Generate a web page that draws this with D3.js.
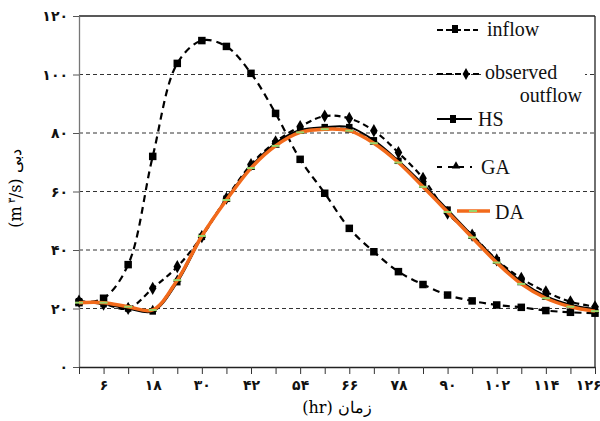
<!DOCTYPE html>
<html>
<head>
<meta charset="utf-8">
<script src="https://cdn.jsdelivr.net/npm/d3@7"></script>
<style>
  body { margin: 0; background: #fff; }
  svg { display: block; }
  .fa { font-family: "DejaVu Sans", sans-serif; font-weight: bold; font-size: 14px; fill: #111; }
  .leg { font-family: "Liberation Serif", serif; font-size: 20px; fill: #111; }
</style>
</head>
<body>
<div id="chart"></div>
<script>
// time steps (hr) and discharge (m3/s)
const hours = [0, 6, 12, 18, 24, 30, 36, 42, 48, 54, 60, 66, 72, 78, 84, 90, 96, 102, 108, 114, 120, 126];
const inflow = [22, 23.5, 35, 72, 103.8, 111.6, 109.6, 100.4, 86.7, 71, 59.4, 47.4, 39.4, 32.6, 28.2, 24.6, 22.6, 21.2, 20.4, 19.3, 18.7, 18.4];
const observed = [22.5, 21.5, 20, 26.9, 34.3, 44.6, 57.7, 69.2, 77, 82.2, 85.8, 85, 80.8, 73.3, 64.5, 52.6, 45.1, 36.6, 30.3, 25.7, 22.3, 20.6];
const hs = [22.5, 21.5, 20, 19, 29, 44.5, 57.5, 68.5, 76.5, 81, 82, 82, 77.5, 70.5, 62.5, 53.8, 45, 36.5, 29.2, 24.2, 21.3, 19.8];
const ga = [22, 22, 20.5, 19.6, 30, 45, 57.3, 68.2, 75.8, 80.5, 81.5, 81, 76.8, 70.2, 62, 53.3, 44.6, 36, 28.8, 23.8, 20.9, 19.4];
const da = [22, 22, 20.6, 19.5, 29.7, 44.8, 57.1, 68, 75.6, 80.2, 81.3, 80.8, 76.5, 69.9, 61.6, 53, 44.3, 35.7, 28.4, 23.5, 20.6, 19.1];

const yTicks = [0, 20, 40, 60, 80, 100, 120];
const xLabelTicks = [6, 18, 30, 42, 54, 66, 78, 90, 102, 114, 126];
const xMinorTicks = [0, 6, 12, 18, 24, 30, 36, 42, 48, 54, 60, 66, 72, 78, 84, 90, 96, 102, 108, 114, 120, 126];

// persian digits
const faDigits = "۰۱۲۳۴۵۶۷۸۹";
const fa = n => String(n).replace(/\d/g, d => faDigits[+d]);

const W = 600, H = 421;
const margin = {top: 16, right: 5, bottom: 54, left: 79};

const svg = d3.select("#chart").append("svg").attr("width", W).attr("height", H);

const x = d3.scaleLinear().domain([0, 126]).range([margin.left, W - margin.right]);
const y = d3.scaleLinear().domain([0, 120]).range([H - margin.bottom, margin.top]);

// grid
svg.append("g").selectAll("line")
    .data(yTicks.filter(v => v > 0 && v < 120))
    .enter().append("line")
    .attr("x1", x(0)).attr("x2", x(126))
    .attr("y1", d => y(d)).attr("y2", d => y(d))
    .attr("stroke", "#333").attr("stroke-width", 1)
    .attr("stroke-dasharray", "4,3");

// frame
svg.append("line").attr("x1", x(0)).attr("x2", x(126)).attr("y1", y(120)).attr("y2", y(120))
    .attr("stroke", "#222").attr("stroke-width", 1.3);
svg.append("line").attr("x1", x(126)).attr("x2", x(126)).attr("y1", y(120)).attr("y2", y(0))
    .attr("stroke", "#222").attr("stroke-width", 1.3);

// y axis
const yAxis = svg.append("g")
    .attr("transform", `translate(${x(0)},0)`)
    .call(d3.axisLeft(y).tickValues(yTicks).tickSize(6).tickSizeOuter(0).tickFormat(fa));
yAxis.select(".domain").attr("stroke", "#777").attr("stroke-width", 1.3);
yAxis.selectAll(".tick line").attr("stroke", "#555");
yAxis.selectAll("text").attr("class", "fa").attr("x", -11).attr("dy", "0.35em");

// x axis
const xAxis = svg.append("g")
    .attr("transform", `translate(0,${y(0)})`)
    .call(d3.axisBottom(x).tickValues(xMinorTicks).tickSize(7).tickSizeOuter(0)
        .tickFormat(d => xLabelTicks.includes(d) ? fa(d) : ""));
xAxis.select(".domain").attr("stroke", "#222").attr("stroke-width", 1.3);
xAxis.selectAll(".tick line").attr("stroke", "#333");
xAxis.selectAll("text").attr("class", "fa").attr("y", 13)
    .filter(d => d === 126).attr("text-anchor", "end").attr("x", 6);

// axis titles
svg.append("text")
    .attr("x", x(63)).attr("y", 413)
    .attr("text-anchor", "middle")
    .style("font-family", "DejaVu Serif, serif").style("font-size", "16px")
    .text("(hr) زمان");

svg.append("text")
    .attr("transform", `translate(21,${y(61)}) rotate(-90)`)
    .attr("text-anchor", "middle")
    .style("font-family", "DejaVu Serif, serif").style("font-size", "16px")
    .call(t => {
        t.append("tspan").text("(m");
        t.append("tspan").attr("dy", -6).style("font-size", "10px").text(" ۳");
        t.append("tspan").attr("dy", 6).text("/s)  دبی");
    });

const curve = d3.curveCatmullRom.alpha(0.5);
const line = vals => d3.line()
    .x((d, i) => x(hours[i]))
    .y(d => y(d))
    .curve(curve)(vals);

const plot = svg.append("g");

// markers
function squares(g, vals, s) {
    g.selectAll(null).data(vals).enter().append("rect")
        .attr("x", (d, i) => x(hours[i]) - s / 2)
        .attr("y", d => y(d) - s / 2)
        .attr("width", s).attr("height", s)
        .attr("fill", "#000");
}
function diamonds(g, vals, s) {
    g.selectAll(null).data(vals).enter().append("path")
        .attr("d", d3.symbol(d3.symbolDiamond, s))
        .attr("transform", (d, i) => `translate(${x(hours[i])},${y(d)})`)
        .attr("fill", "#000");
}
function triangles(g, vals, s) {
    g.selectAll(null).data(vals).enter().append("path")
        .attr("d", d3.symbol(d3.symbolTriangle, s))
        .attr("transform", (d, i) => `translate(${x(hours[i])},${y(d)})`)
        .attr("fill", "#000");
}
function dashes(g, vals) {
    g.selectAll(null).data(vals).enter().append("line")
        .attr("x1", (d, i) => x(hours[i]) - 4).attr("x2", (d, i) => x(hours[i]) + 4)
        .attr("y1", d => y(d)).attr("y2", d => y(d))
        .attr("stroke", "#9ad66a").attr("stroke-width", 2);
}

// inflow
plot.append("path").attr("d", line(inflow))
    .attr("fill", "none").attr("stroke", "#000").attr("stroke-width", 2.2)
    .attr("stroke-dasharray", "7,5");
squares(plot.append("g"), inflow, 7.5);

// observed outflow
plot.append("path").attr("d", line(observed))
    .attr("fill", "none").attr("stroke", "#000").attr("stroke-width", 2.2)
    .attr("stroke-dasharray", "6,4");
diamonds(plot.append("g"), observed, 50);

// HS
plot.append("path").attr("d", line(hs))
    .attr("fill", "none").attr("stroke", "#000").attr("stroke-width", 2);
squares(plot.append("g"), hs, 6.5);

// GA
plot.append("path").attr("d", line(ga))
    .attr("fill", "none").attr("stroke", "#000").attr("stroke-width", 2)
    .attr("stroke-dasharray", "6,4");
triangles(plot.append("g"), ga, 30);

// DA
plot.append("path").attr("d", line(da))
    .attr("fill", "none").attr("stroke", "#f26a1b").attr("stroke-width", 3.5);
dashes(plot.append("g"), da);

// legend
const leg = svg.append("g");
leg.append("rect").attr("x", 481).attr("y", 62).attr("width", 104).attr("height", 44).attr("fill", "#fff");

function legLine(x1, x2, yy, dash, color, w) {
    leg.append("line").attr("x1", x1).attr("x2", x2).attr("y1", yy).attr("y2", yy)
        .attr("stroke", color).attr("stroke-width", w)
        .attr("stroke-dasharray", dash);
}
// inflow
legLine(437, 478, 30, "6,3", "#000", 2.2);
leg.append("rect").attr("x", 452).attr("y", 25).attr("width", 6).attr("height", 8).attr("fill", "#000");
leg.append("text").attr("class", "leg").attr("x", 487).attr("y", 36).text("inflow");
// observed
legLine(437, 481, 74, "6,3", "#000", 2.2);
leg.append("path").attr("d", d3.symbol(d3.symbolDiamond, 40)).attr("transform", "translate(466,74)").attr("fill", "#000");
leg.append("text").attr("class", "leg").attr("x", 485).attr("y", 79).text("observed");
leg.append("text").attr("class", "leg").attr("x", 582).attr("y", 102).attr("text-anchor", "end").text("outflow");
// HS
legLine(437, 472, 119, null, "#000", 2.2);
leg.append("rect").attr("x", 450).attr("y", 115).attr("width", 6).attr("height", 8).attr("fill", "#000");
leg.append("text").attr("class", "leg").attr("x", 478).attr("y", 126).text("HS");
// GA
legLine(437, 472, 167, "5,6", "#000", 2.2);
leg.append("path").attr("d", d3.symbol(d3.symbolTriangle, 30)).attr("transform", "translate(456,166)").attr("fill", "#000");
leg.append("text").attr("class", "leg").attr("x", 481).attr("y", 174).text("GA");
// DA
legLine(457, 490, 211, null, "#f26a1b", 3.5);
leg.append("line").attr("x1", 469).attr("x2", 477).attr("y1", 211).attr("y2", 211)
    .attr("stroke", "#9ad66a").attr("stroke-width", 2);
leg.append("text").attr("class", "leg").attr("x", 495).attr("y", 219).text("DA");
</script>
</body>
</html>
